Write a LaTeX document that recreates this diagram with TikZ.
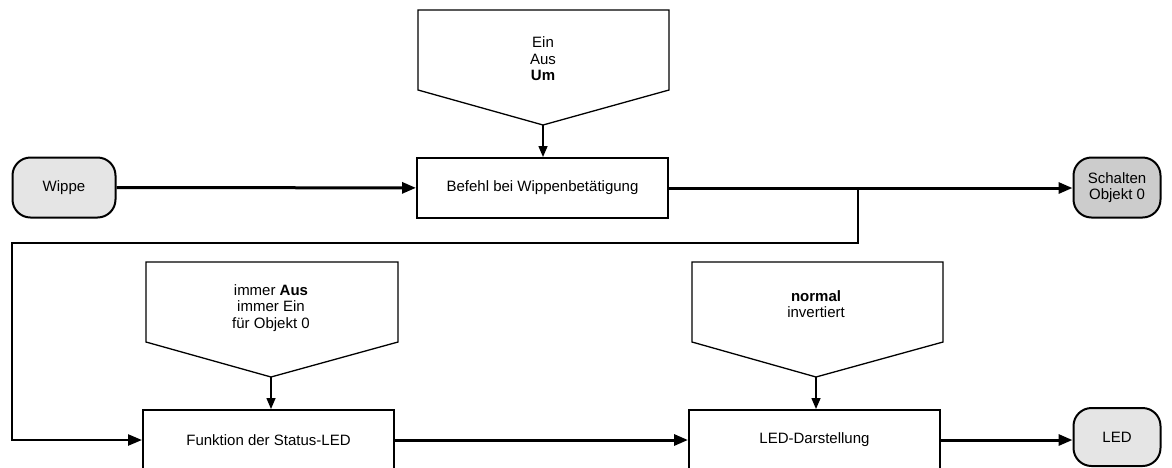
\documentclass[tikz,border=0pt]{standalone}
\usepackage{fontspec}
\setmainfont{Liberation Sans}
\usepackage{tikz}
\usetikzlibrary{arrows.meta,positioning,calc}

\begin{document}
\begin{tikzpicture}[
    x=1pt, y=-1pt,
    every node/.style={font=\fontsize{15}{16.5}\selectfont},
    block/.style={rectangle, draw, line width=2pt, minimum width=251pt, minimum height=60pt, inner sep=0pt},
    terminal/.style={rectangle, rounded corners=18pt, draw, line width=2pt, fill=black!10, minimum width=103pt, minimum height=60pt, align=center, inner sep=0pt},
    choice/.style={draw, line width=1.3pt, line join=miter},
    seltext/.style={align=center, inner sep=0pt},
    flow/.style={-{Triangle[length=14pt,width=11pt]}, line width=3pt},
    link/.style={-{Triangle[length=14pt,width=11pt]}, line width=2.4pt},
    feed/.style={-{Triangle[length=11pt,width=9pt]}, line width=1.5pt}
]
    \useasboundingbox (0,0) rectangle (1172,467);

    % Eingang und Ausgang oben
    \node[terminal] (wippe) at (64,187.5) {Wippe};
    \node[block] (befehl) at (542.5,188) {Befehl bei Wippenbetätigung};
    \node[terminal, fill=black!20, minimum width=87pt] (schalten) at (1117,187.5) {Schalten\\Objekt 0};

    % Auswahl oben
    \draw[choice] (418,10) -- (669,10) -- (669,90) -- (543,125) -- (418,90) -- cycle;
    \coordinate (umTip) at (543,125);
    \node[seltext] (umSel) at (543,59) {Ein\\Aus\\\textbf{Um}};

    % untere Reihe
    \node[block] (funktion) at (268.5,440) {Funktion der Status-LED};
    \node[block] (darst) at (814.5,440) {LED-Darstellung};
    \node[terminal, minimum width=87pt, minimum height=58pt] (led) at (1117,437) {LED};

    \draw[choice] (146,262) -- (398,262) -- (398,342) -- (271,377) -- (146,342) -- cycle;
    \coordinate (ausTip) at (271,377);
    \node[seltext] (ausSel) at (271,308) {immer \textbf{Aus}\\immer Ein\\für Objekt 0};

    \draw[choice] (692,262) -- (943,262) -- (943,342) -- (816,377) -- (692,342) -- cycle;
    \coordinate (normTip) at (816,377);
    \node[seltext] (normSel) at (816,304) {\textbf{normal}\\invertiert};

    % Verbindungen
    \draw[flow] (wippe) -- (befehl);
    \draw[flow] (befehl) -- (schalten.west |- befehl);
    \coordinate (abzweig) at (858,188);
    \draw[link] (abzweig) -- (858,243) -- (12,243) -- (12,440) -- (funktion.west);
    \draw[flow] (funktion) -- (darst);
    \draw[flow] (darst) -- (led.west |- darst);

    \draw[feed] (umTip) -- (befehl.north -| umTip);
    \draw[feed] (ausTip) -- (funktion.north -| ausTip);
    \draw[feed] (normTip) -- (darst.north -| normTip);
\end{tikzpicture}
\end{document}
